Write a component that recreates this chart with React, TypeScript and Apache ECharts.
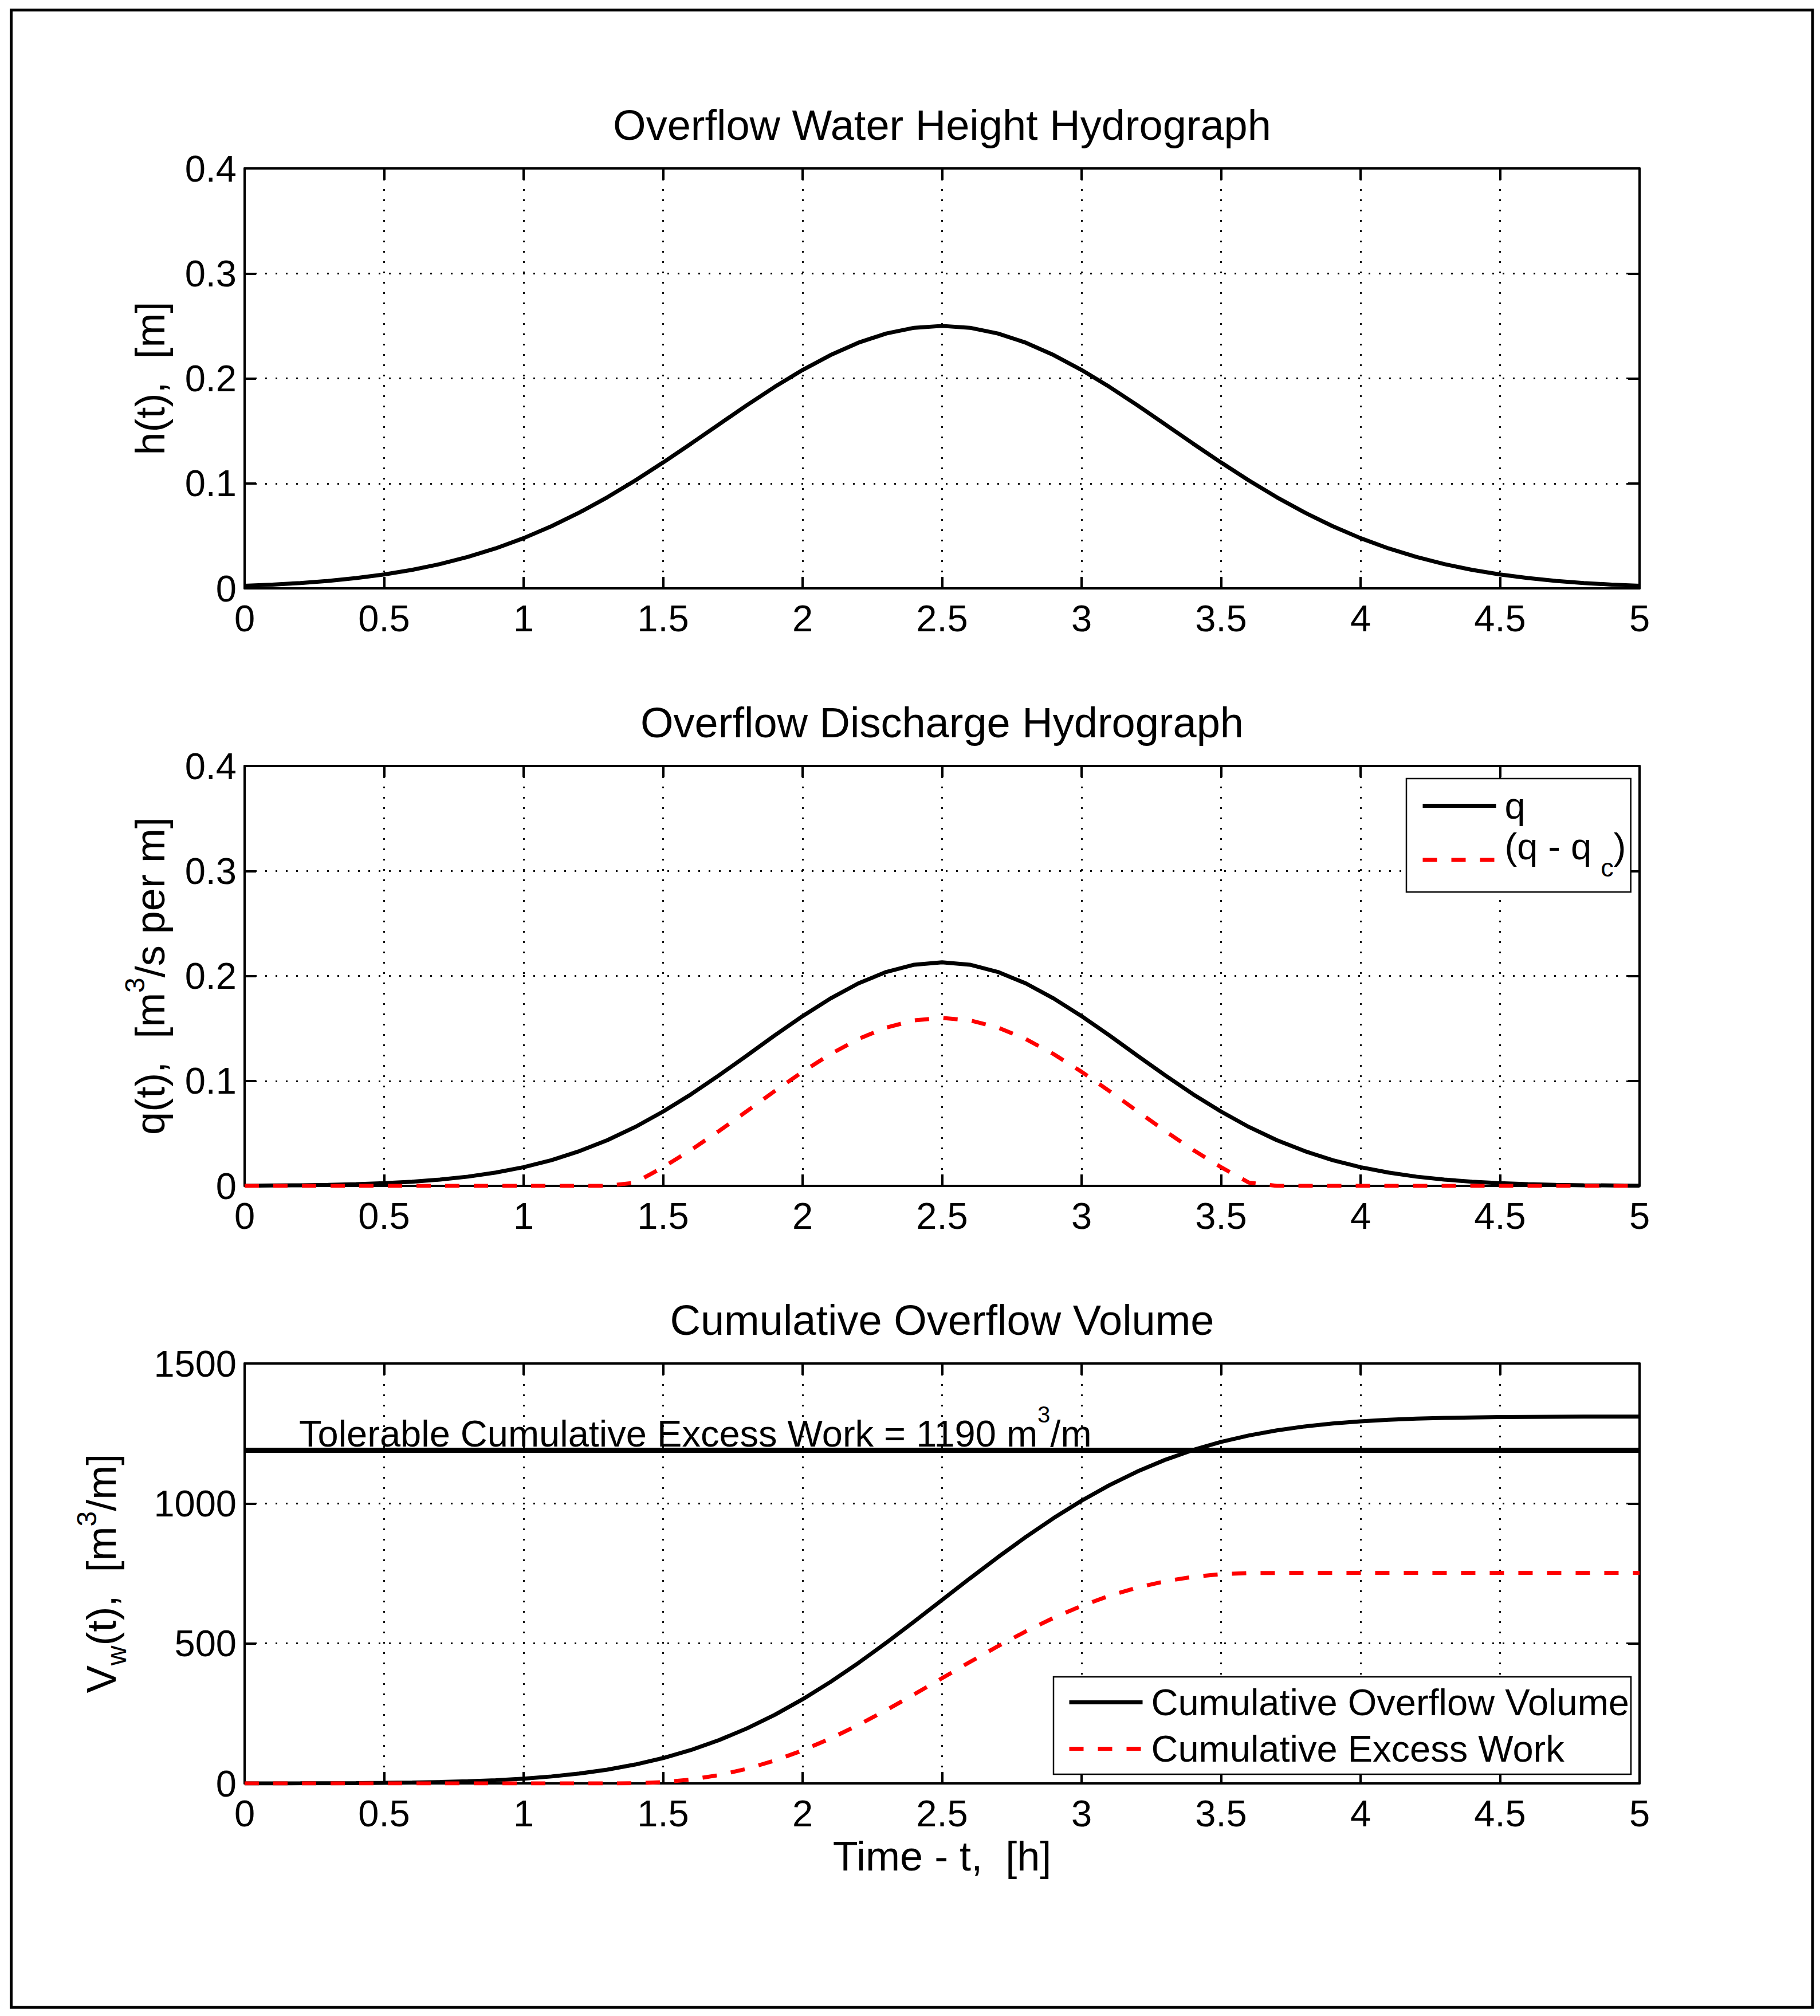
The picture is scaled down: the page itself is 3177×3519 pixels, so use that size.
import React, { useEffect, useRef } from 'react';
import * as echarts from 'echarts';

// ---------------- DATA ----------------
const T = [
  0, 0.1, 0.2, 0.3, 0.4, 0.5, 0.6, 0.7, 0.8, 0.9,
  1.0, 1.1, 1.2, 1.3, 1.4, 1.5, 1.6, 1.7, 1.8, 1.9,
  2.0, 2.1, 2.2, 2.3, 2.4, 2.5, 2.6, 2.7, 2.8, 2.9,
  3.0, 3.1, 3.2, 3.3, 3.4, 3.5, 3.6, 3.7, 3.8, 3.9,
  4.0, 4.1, 4.2, 4.3, 4.4, 4.5, 4.6, 4.7, 4.8, 4.9, 5.0,
];

// water height h(t) [m]
const H = [
  0.0025, 0.0036, 0.0051, 0.0071, 0.0098, 0.0132, 0.0176, 0.0231, 0.0299, 0.0381,
  0.0478, 0.0592, 0.0722, 0.0867, 0.1027, 0.1199, 0.1378, 0.1562, 0.1744, 0.1919,
  0.2080, 0.2222, 0.2340, 0.2428, 0.2482, 0.2500, 0.2482, 0.2428, 0.2340, 0.2222,
  0.2080, 0.1919, 0.1744, 0.1562, 0.1378, 0.1199, 0.1027, 0.0867, 0.0722, 0.0592,
  0.0478, 0.0381, 0.0299, 0.0231, 0.0176, 0.0132, 0.0098, 0.0071, 0.0051, 0.0036, 0.0025,
];

// discharge q(t) [m3/s per m]
const Q = [
  0.0002, 0.0004, 0.0006, 0.0010, 0.0017, 0.0026, 0.0040, 0.0060, 0.0088, 0.0127,
  0.0178, 0.0245, 0.0331, 0.0435, 0.0561, 0.0708, 0.0872, 0.1052, 0.1241, 0.1433,
  0.1617, 0.1785, 0.1929, 0.2038, 0.2107, 0.2130, 0.2107, 0.2038, 0.1929, 0.1785,
  0.1617, 0.1433, 0.1241, 0.1052, 0.0872, 0.0708, 0.0561, 0.0435, 0.0331, 0.0245,
  0.0178, 0.0127, 0.0088, 0.0060, 0.0040, 0.0026, 0.0017, 0.0010, 0.0006, 0.0004, 0.0002,
];

// excess discharge (q - qc)
const Q_EXCESS = [
  0, 0, 0, 0, 0, 0, 0, 0, 0, 0,
  0, 0, 0, 0, 0.0031, 0.0178, 0.0342, 0.0522, 0.0711, 0.0903,
  0.1087, 0.1255, 0.1399, 0.1508, 0.1577, 0.1600, 0.1577, 0.1508, 0.1399, 0.1255,
  0.1087, 0.0903, 0.0711, 0.0522, 0.0342, 0.0178, 0.0031, 0, 0, 0,
  0, 0, 0, 0, 0, 0, 0, 0, 0, 0, 0,
];

// cumulative overflow volume [m3/m]
const V_CUM = [
  0, 0.1, 0.3, 0.6, 1.1, 1.9, 3.1, 4.9, 7.6, 11.5,
  17.1, 24.8, 35.3, 49.2, 67.4, 90.5, 119.3, 154.4, 196.2, 244.9,
  300.5, 362.5, 430.2, 502.5, 578.0, 655.2, 732.4, 807.9, 880.2, 947.9,
  1009.9, 1065.5, 1114.2, 1156.0, 1191.1, 1219.9, 1243.0, 1261.2, 1275.1, 1285.6,
  1293.3, 1298.9, 1302.8, 1305.5, 1307.3, 1308.5, 1309.3, 1309.8, 1310.1, 1310.3, 1310.4,
];

// cumulative excess work [m3/m]
const W_CUM = [
  0, 0, 0, 0, 0, 0, 0, 0, 0, 0,
  0, 0, 0, 0, 0.6, 4.4, 13.9, 29.6, 52.1, 81.5,
  117.8, 160.4, 208.8, 261.8, 318.0, 375.9, 433.8, 490.0, 543.0, 591.4,
  634.0, 670.3, 699.7, 722.2, 738.0, 747.4, 751.2, 751.8, 751.8, 751.8,
  751.8, 751.8, 751.8, 751.8, 751.8, 751.8, 751.8, 751.8, 751.8, 751.8, 751.8,
];

const TOLERABLE = 1190;

const X_TICKS = [0, 0.5, 1, 1.5, 2, 2.5, 3, 3.5, 4, 4.5, 5];
const H_TICKS = [0, 0.1, 0.2, 0.3, 0.4];
const Q_TICKS = [0, 0.1, 0.2, 0.3, 0.4];
const V_TICKS = [0, 500, 1000, 1500];

const TITLES = [
  'Overflow Water Height Hydrograph',
  'Overflow Discharge Hydrograph',
  'Cumulative Overflow Volume',
];
const NAME_Q = 'q';
const NAME_QX = '(q - q_c)';
const NAME_V = 'Cumulative Overflow Volume';
const NAME_W = 'Cumulative Excess Work';

// ---------------- LAYOUT / STYLE ----------------
const FONT = '"Liberation Sans", Arial, Helvetica, sans-serif';
const GRID_LEFT = 427;
const GRID_WIDTH = 2435;
const GRID_HEIGHT = 733;
const GRID_TOPS = [294, 1337, 2380];
const TICK_FS = 65;
const LABEL_FS = 72;
const TITLE_FS = 74;
const CURVE_W = 7;

const pairs = (xs: number[], ys: number[]) => xs.map((x, i) => [x, ys[i]]);

const axisLine = { show: true, onZero: false, lineStyle: { color: '#000', width: 4 } };
const axisTick = { show: true, inside: true, length: 20, lineStyle: { color: '#000', width: 4 } };
const gridLine = { show: true, lineStyle: { color: '#000', width: 3, type: [3, 15] } };

function rangeOf(ticks: number[]) {
  return { min: ticks[0], max: ticks[ticks.length - 1], interval: ticks[1] - ticks[0] };
}

function tickFormatter(ticks: number[]) {
  return (v: number) => {
    const t = ticks.find((x) => Math.abs(x - v) < 1e-9);
    return t === undefined ? '' : String(t);
  };
}

function xAxesFor(gi: number, withName: boolean) {
  const r = rangeOf(X_TICKS);
  return [
    {
      type: 'value', gridIndex: gi, position: 'bottom', ...r,
      axisLine, axisTick,
      axisLabel: { fontSize: TICK_FS, color: '#000', fontFamily: FONT, margin: 20, formatter: tickFormatter(X_TICKS) },
      splitLine: gridLine,
      name: withName ? 'Time - t,  [h]' : '',
      nameLocation: 'middle',
      nameGap: 91,
      nameTextStyle: { fontSize: LABEL_FS, color: '#000', fontFamily: FONT, lineHeight: 72 },
    },
    {
      type: 'value', gridIndex: gi, position: 'top', ...r,
      axisLine, axisTick, axisLabel: { show: false }, splitLine: { show: false },
    },
  ];
}

function yAxesFor(gi: number, ticks: number[], name: string, nameGap: number) {
  const r = rangeOf(ticks);
  return [
    {
      type: 'value', gridIndex: gi, position: 'left', ...r,
      axisLine, axisTick,
      axisLabel: { fontSize: TICK_FS, color: '#000', fontFamily: FONT, margin: 14, formatter: tickFormatter(ticks) },
      splitLine: gridLine,
      name,
      nameLocation: 'middle',
      nameRotate: 90,
      nameGap,
      nameTextStyle: {
        fontSize: LABEL_FS, color: '#000', fontFamily: FONT, lineHeight: 100,
        rich: {
          sup: { fontSize: 48, lineHeight: 48, verticalAlign: 'top', color: '#000', fontFamily: FONT },
          sub: { fontSize: 48, lineHeight: 48, verticalAlign: 'bottom', color: '#000', fontFamily: FONT },
        },
      },
    },
    {
      type: 'value', gridIndex: gi, position: 'right', ...r,
      axisLine, axisTick, axisLabel: { show: false }, splitLine: { show: false },
    },
  ];
}

const legendText = {
  fontSize: TICK_FS, color: '#000', fontFamily: FONT, lineHeight: 65, padding: [0, 0, 0, 10],
  rich: {
    b: { fontSize: TICK_FS, lineHeight: 65, verticalAlign: 'top', color: '#000', fontFamily: FONT },
    sub: { fontSize: 45, lineHeight: 79, verticalAlign: 'bottom', padding: [0, 0, 20, 16], color: '#000', fontFamily: FONT },
    sp: { fontSize: 1, lineHeight: 112, color: '#000' },
  },
};

const legendCommon = {
  orient: 'vertical',
  itemWidth: 128,
  itemHeight: 4,
  borderColor: '#000',
  borderWidth: 2.5,
  backgroundColor: '#fff',
  selectedMode: false,
  itemStyle: { opacity: 0, borderWidth: 0 },
  lineStyle: { width: CURVE_W },
  textStyle: legendText,
};

function buildOption() {
  return {
    animation: false,
    backgroundColor: '#fff',
    graphic: [
      {
        type: 'rect', silent: true, z: 100,
        shape: { x: 19.5, y: 17.5, width: 3144.5, height: 3486.5 },
        style: { fill: 'none', stroke: '#000', lineWidth: 5 },
      },
    ],
    title: TITLES.map((t, i) => ({
      text: t,
      left: GRID_LEFT + GRID_WIDTH / 2,
      top: GRID_TOPS[i] - 113,
      textAlign: 'center',
      padding: 0,
      textStyle: { fontSize: TITLE_FS, fontWeight: 'normal', color: '#000', fontFamily: FONT, lineHeight: 74 },
    })),
    grid: GRID_TOPS.map((top) => ({
      left: GRID_LEFT, top, width: GRID_WIDTH, height: GRID_HEIGHT, containLabel: false,
    })),
    xAxis: [...xAxesFor(0, false), ...xAxesFor(1, false), ...xAxesFor(2, true)],
    yAxis: [
      ...yAxesFor(0, H_TICKS, 'h(t),  [m]', 114),
      ...yAxesFor(1, Q_TICKS, 'q(t),  [m{sup|3}/s per m]', 114),
      ...yAxesFor(2, V_TICKS, 'V{sub|w}(t),  [m{sup|3}/m]', 200),
    ],
    legend: [
      {
        ...legendCommon,
        data: [NAME_Q, NAME_QX],
        left: 2455, top: 1359,
        itemGap: 6,
        padding: [15, 8, 0, 25],
        formatter: (name: string) => (name === NAME_QX ? '{b|(q - q}{sub|c}{b|)}{sp| }' : name),
      },
      {
        ...legendCommon,
        data: [NAME_V, NAME_W],
        left: 1839, top: 2927,
        itemGap: 16,
        padding: [12, 3, 12, 24],
      },
    ],
    series: [
      {
        name: 'h', type: 'line', xAxisIndex: 0, yAxisIndex: 0,
        data: pairs(T, H), symbol: 'none',
        lineStyle: { color: '#000', width: CURVE_W }, itemStyle: { color: '#000' },
      },
      {
        name: NAME_Q, type: 'line', xAxisIndex: 2, yAxisIndex: 2,
        data: pairs(T, Q), symbol: 'none',
        lineStyle: { color: '#000', width: CURVE_W }, itemStyle: { color: '#000' },
      },
      {
        name: NAME_QX, type: 'line', xAxisIndex: 2, yAxisIndex: 2,
        data: pairs(T, Q_EXCESS), symbol: 'none',
        lineStyle: { color: '#ff0000', width: CURVE_W, type: [25, 25] }, itemStyle: { color: '#ff0000' },
      },
      {
        name: NAME_V, type: 'line', xAxisIndex: 4, yAxisIndex: 4,
        data: pairs(T, V_CUM), symbol: 'none',
        lineStyle: { color: '#000', width: CURVE_W }, itemStyle: { color: '#000' },
        markLine: {
          silent: true,
          symbol: ['none', 'none'],
          lineStyle: { color: '#000', width: 9, type: 'solid' },
          label: {
            show: true,
            position: 'insideStartTop',
            distance: [95, -25],
            formatter: `Tolerable Cumulative Excess Work = ${TOLERABLE} m{sup|3}/m`,
            fontSize: TICK_FS, color: '#000', fontFamily: FONT, lineHeight: 107,
            rich: {
              sup: { fontSize: 40, lineHeight: 40, verticalAlign: 'top', color: '#000', fontFamily: FONT },
            },
          },
          data: [{ yAxis: TOLERABLE }],
        },
      },
      {
        name: NAME_W, type: 'line', xAxisIndex: 4, yAxisIndex: 4,
        data: pairs(T, W_CUM), symbol: 'none',
        lineStyle: { color: '#ff0000', width: CURVE_W, type: [25, 25] }, itemStyle: { color: '#ff0000' },
      },
    ],
  };
}

export default function App() {
  const ref = useRef<HTMLDivElement>(null);
  useEffect(() => {
    document.body.style.margin = '0';
    document.body.style.overflow = 'hidden';
    const chart = echarts.init(ref.current as HTMLDivElement, null, { renderer: 'svg' });
    chart.setOption(buildOption() as any);
    return () => chart.dispose();
  }, []);
  return <div ref={ref} style={{ width: 3177, height: 3519, background: '#fff' }} />;
}
